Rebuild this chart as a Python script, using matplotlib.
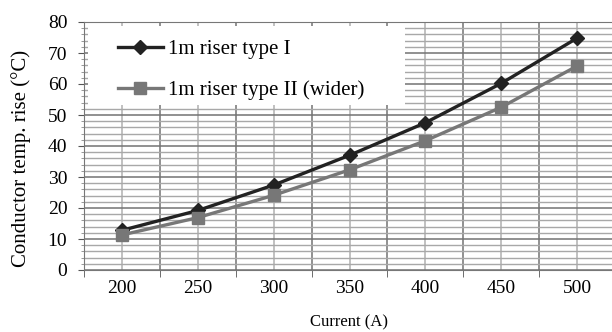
import matplotlib
matplotlib.use('Agg')
import matplotlib.pyplot as plt
from matplotlib.ticker import MultipleLocator, FixedLocator
from matplotlib.patches import Rectangle

plt.rcParams['font.family'] = ['Liberation Serif', 'DejaVu Serif']

currents = ['200', '250', '300', '350', '400', '450', '500']
type1 = [12.8, 19.2, 27.4, 37.0, 47.5, 60.2, 74.8]
type2 = [11.3, 16.9, 24.1, 32.3, 41.7, 52.5, 65.8]

fig = plt.figure(figsize=(6.12, 3.32), dpi=100)
ax = fig.add_axes([84 / 612, 62 / 332, 531 / 612, 248 / 332])

x = list(range(len(currents)))
ax.plot(x, type1, color='#222222', lw=2.4, marker='D', ms=7.5, label='1m riser type I', zorder=3)
ax.plot(x, type2, color='#777777', lw=2.4, marker='s', ms=8, label='1m riser type II (wider)', zorder=3)

ax.set_xlim(-0.5, len(currents) - 0.5)
ax.set_ylim(0, 80)

# category labels at centres, tick marks at boundaries (Excel style)
ax.set_xticks(x)
ax.set_xticklabels(currents)
ax.xaxis.set_minor_locator(FixedLocator([i - 0.5 for i in range(len(currents) + 1)]))
ax.tick_params(axis='x', which='major', length=0, pad=7, labelsize=14)
ax.tick_params(axis='x', which='minor', length=5, direction='out', color='#555555')

ax.yaxis.set_major_locator(MultipleLocator(10))
ax.yaxis.set_minor_locator(MultipleLocator(2))
ax.tick_params(axis='y', which='major', length=4, pad=8, labelsize=14, color='#555555')
ax.tick_params(axis='y', which='minor', length=2.5, color='#888888')

ax.grid(True, axis='y', which='major', color='#737373', lw=1.1)
ax.grid(True, axis='y', which='minor', color='#a8a8a8', lw=1.0)
ax.grid(True, axis='x', which='minor', color='#737373', lw=1.1)
ax.grid(True, axis='x', which='major', color='#b0b0b0', lw=1.1)
ax.set_axisbelow(True)

for s in ['left', 'bottom', 'top']:
    ax.spines[s].set_color('#777777')
ax.spines['right'].set_visible(False)

# white legend background
ax.add_patch(Rectangle((0.0075, 0.665), 0.597, 0.319, transform=ax.transAxes,
                       facecolor='white', edgecolor='none', zorder=2))
leg = ax.legend(loc='upper left', bbox_to_anchor=(0.064, 0.928), fontsize=15, frameon=False,
                handlelength=2.15, labelspacing=1.0, borderpad=0, borderaxespad=0,
                handletextpad=0.25)
leg.set_zorder(5)

ax.set_ylabel('Conductor temp. rise (°C)', fontsize=15)
ax.yaxis.set_label_coords(-0.100, 0.45)
ax.set_xlabel('Current (A)', fontsize=12, labelpad=13)

fig.savefig('out.png', dpi=100)
